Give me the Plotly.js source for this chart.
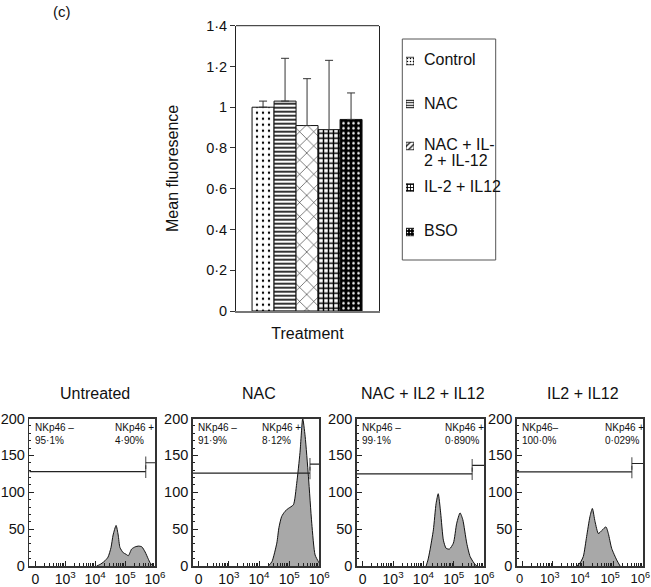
<!DOCTYPE html>
<html>
<head>
<meta charset="utf-8">
<script src="https://cdn.plot.ly/plotly-3.0.1.min.js"></script>
<style>html,body{margin:0;padding:0;background:#fff;}#chart{width:651px;height:587px;}</style>
</head>
<body>
<div id="chart"></div>
<script>
// ---------- Bar chart data ----------
const categories = ['Control', 'NAC', 'NAC + IL-2 + IL-12', 'IL-2 + IL12', 'BSO'];
const legendLines = [['Control'], ['NAC'], ['NAC + IL-', '2 + IL-12'], ['IL-2 + IL12'], ['BSO']];
const meanFluorescence = [1.0, 1.03, 0.91, 0.89, 0.94];
const errorUp = [0.03, 0.21, 0.23, 0.34, 0.13];
const yTickVals = [0, 0.2, 0.4, 0.6, 0.8, 1, 1.2, 1.4];
const yTickText = ['0', '0·2', '0·4', '0·6', '0·8', '1', '1·2', '1·4'];

// ---------- Histogram data (x in decades of biexponential axis) ----------
const panelTitles = ['Untreated', 'NAC', 'NAC + IL2 + IL12', 'IL2 + IL12'];
const untreatedX = [2.05, 2.16, 2.30, 2.43, 2.53, 2.60, 2.70, 2.77, 2.83, 2.94, 3.03, 3.11, 3.22, 3.34, 3.45, 3.56, 3.67, 3.77, 3.84, 3.94];
const untreatedY = [0, 2, 6, 12, 25, 42, 55, 42, 25, 18, 16, 14, 23, 26, 27, 26, 19, 10, 4, 0];
const nacX = [2.31, 2.43, 2.59, 2.66, 2.75, 2.86, 2.97, 3.14, 3.25, 3.36, 3.45, 3.53, 3.64, 3.75, 3.86, 3.97, 4.0];
const nacY = [0, 6, 31, 52, 67, 74, 78, 83, 112, 154, 200, 176, 121, 58, 15, 6, 4];
const nacIlX = [2.09, 2.15, 2.22, 2.33, 2.42, 2.49, 2.57, 2.66, 2.75, 2.86, 2.99, 3.10, 3.21, 3.30, 3.43, 3.54, 3.67, 3.76];
const nacIlY = [0, 8, 22, 49, 85, 98, 72, 35, 24, 23, 31, 58, 72, 63, 31, 13, 4, 0];
const ilX = [1.79, 1.90, 2.01, 2.12, 2.23, 2.31, 2.40, 2.51, 2.62, 2.76, 2.84, 2.95, 3.12, 3.23];
const ilY = [0, 4, 13, 40, 67, 78, 60, 44, 48, 53, 44, 24, 8, 0];
const histX = [untreatedX, nacX, nacIlX, ilX];
const histY = [untreatedY, nacY, nacIlY, ilY];

const gateNegY = [128, 126, 125, 127.5];
const gatePosY = [140, 138, 136.5, 139];
const gateSplitX = [3.69, 3.69, 3.61, 3.62];
const negLabels = ['NKp46 –', 'NKp46 –', 'NKp46 –', 'NKp46–'];
const negPct = ['95·1%', '91·9%', '99·1%', '100·0%'];
const posLabels = ['NKp46 +', 'NKp46 +', 'NKp46 +', 'NKp46 +'];
const posPct = ['4·90%', '8·12%', '0·890%', '0·029%'];
const histXTickVals = [0, 1, 2, 3, 4];
const histXTickText = ['0', '10<sup>3</sup>', '10<sup>4</sup>', '10<sup>5</sup>', '10<sup>6</sup>'];

// ---------- Layout helpers ----------
const W = 651, H = 587;
const dx = p => p / W;
const dy = p => 1 - p / H;
const FONT = 'Liberation Sans, Arial, Helvetica, sans-serif';

const patterns = [
  {shape: '.', size: 6, solidity: 0.12, fgcolor: '#000', bgcolor: '#fff'},
  {shape: '-', size: 4, solidity: 0.4, fgcolor: '#000', bgcolor: '#fff'},
  {shape: 'x', size: 10, solidity: 0.1, fgcolor: '#000', bgcolor: '#fff'},
  {shape: '+', size: 5, solidity: 0.5, fgcolor: '#000', bgcolor: '#fff'},
  {shape: '.', size: 5, solidity: 0.2, fgcolor: '#fff', bgcolor: '#000'}
];
const swatchPatterns = [
  {shape: '.', size: 3, solidity: 0.2, fgcolor: '#000', bgcolor: '#fff'},
  {shape: '-', size: 2.5, solidity: 0.4, fgcolor: '#000', bgcolor: '#fff'},
  {shape: '/', size: 4, solidity: 0.3, fgcolor: '#000', bgcolor: '#fff'},
  {shape: '+', size: 3, solidity: 0.5, fgcolor: '#000', bgcolor: '#fff'},
  {shape: '.', size: 3, solidity: 0.2, fgcolor: '#fff', bgcolor: '#000'}
];

const traces = [];
categories.forEach((c, i) => {
  traces.push({
    type: 'bar', x: [c], y: [meanFluorescence[i]], name: c,
    xaxis: 'x', yaxis: 'y', showlegend: false,
    marker: {color: '#fff', line: {color: '#111', width: 1}, pattern: patterns[i]},
    error_y: {type: 'data', symmetric: false, array: [errorUp[i]], arrayminus: [0],
              color: '#333', thickness: 1, width: 4},
    hoverinfo: 'skip'
  });
});

// legend (drawn as small swatch bars + text, in legend pixel rows)
const legendRowY = [61, 104, 146, 187.5, 232];
const legendBox = {x0: 402.3, x1: 495.7, y0: 39, y1: 260};
categories.forEach((c, i) => {
  traces.push({
    type: 'bar', orientation: 'h', y: [legendRowY[i]], x: [1], width: 7.5, name: c,
    xaxis: 'x6', yaxis: 'y6', showlegend: false, hoverinfo: 'skip',
    marker: {color: '#fff', line: {color: '#111', width: 0.8}, pattern: swatchPatterns[i]}
  });
});

const panelX = [[29.3, 155], [192.7, 319.3], [356.7, 484], [516.7, 643.3]];
const panelTop = 418.5, panelBottom = 566;
const layout = {
  width: W, height: H,
  margin: {l: 0, r: 0, t: 0, b: 0},
  paper_bgcolor: '#fff', plot_bgcolor: '#fff',
  font: {family: FONT, color: '#111', size: 14},
  barmode: 'overlay', bargap: 0,
  showlegend: false,
  xaxis: {domain: [dx(236), dx(379)], type: 'category', range: [-1.23, 5.27],
          showticklabels: false, ticks: '', showline: true, linecolor: '#777', linewidth: 2,
          showgrid: false, zeroline: false, fixedrange: true,
          title: {text: 'Treatment', font: {size: 16}, standoff: 16}},
  yaxis: {domain: [dy(311), dy(25.7)], range: [0, 1.4], tickvals: yTickVals, ticktext: yTickText,
          ticks: 'outside', ticklen: 5, tickcolor: '#333', showline: true, linecolor: '#222',
          linewidth: 1, mirror: true, showgrid: false, zeroline: false, tickfont: {size: 14.5},
          title: {text: 'Mean fluoresence', font: {size: 16}, standoff: 23}},
  xaxis6: {domain: [dx(406), dx(414)], range: [0, 1], visible: false, fixedrange: true, anchor: 'y6'},
  yaxis6: {domain: [dy(legendBox.y1), dy(legendBox.y0)], range: [legendBox.y1, legendBox.y0], visible: false, fixedrange: true, anchor: 'x6'},
  shapes: [
    {type: 'line', xref: 'x domain', yref: 'y domain', x0: 0, x1: 1, y0: 1, y1: 1, line: {color: '#222', width: 1}},
    {type: 'rect', xref: 'paper', yref: 'paper', x0: dx(legendBox.x0), x1: dx(legendBox.x1),
     y0: dy(legendBox.y1), y1: dy(legendBox.y0), line: {color: '#555', width: 1}}
  ],
  annotations: [{text: '(c)', x: dx(62), y: dy(11), xref: 'paper', yref: 'paper', showarrow: false,
                 font: {size: 15}, xanchor: 'center', yanchor: 'middle'}]
};

legendLines.forEach((lines, i) => {
  lines.forEach((ln, j) => {
    layout.annotations.push({text: ln, x: dx(422), y: dy(legendRowY[i] - 1 + j * 15), xref: 'paper', yref: 'paper',
      showarrow: false, font: {size: 16}, xanchor: 'left', yanchor: 'middle', align: 'left'});
  });
});

const minorX = [];
for (let d = 0; d < 4; d++) for (let k = 2; k <= 9; k++) minorX.push(d + Math.log10(k));

panelTitles.forEach((t, i) => {
  const n = i + 2;
  const xa = 'x' + n, ya = 'y' + n;
  traces.push({
    type: 'scatter', mode: 'lines', x: histX[i], y: histY[i], xaxis: xa, yaxis: ya,
    fill: 'tozeroy', fillcolor: '#a8a8a8', line: {color: '#111', width: 1, shape: 'spline', smoothing: 0.6},
    showlegend: false, hoverinfo: 'skip'
  });
  traces.push({
    type: 'scatter', mode: 'lines+markers', x: [-0.2, gateSplitX[i]], y: [gateNegY[i], gateNegY[i]],
    xaxis: xa, yaxis: ya, line: {color: '#222', width: 1.2},
    marker: {symbol: 'line-ns-open', size: [0, 9], color: '#222', line: {color: '#222', width: 1.2}},
    showlegend: false, hoverinfo: 'skip', cliponaxis: false
  });
  traces.push({
    type: 'scatter', mode: 'lines+markers', x: [gateSplitX[i], 4.03], y: [gatePosY[i], gatePosY[i]],
    xaxis: xa, yaxis: ya, line: {color: '#222', width: 1.2},
    marker: {symbol: 'line-ns-open', size: [9, 0], color: '#222', line: {color: '#222', width: 1.2}},
    showlegend: false, hoverinfo: 'skip', cliponaxis: false
  });
  const last = (i === 3);
  layout['xaxis' + n] = {
    domain: [dx(panelX[i][0]), dx(panelX[i][1])], anchor: ya, range: [-0.2, 4.0],
    tickvals: histXTickVals, ticktext: histXTickText, ticks: 'inside', ticklen: 5, tickcolor: '#222',
    ticklabeloverflow: 'allow', ticklabelshift: last ? -3 : 0,
    minor: {tickvals: minorX, ticks: 'inside', ticklen: 3, tickcolor: '#222'},
    showline: true, mirror: true, linecolor: '#333', linewidth: 1.5, showgrid: false, zeroline: false,
    tickfont: {size: last ? 13 : 14}, fixedrange: true
  };
  layout['yaxis' + n] = {
    domain: [dy(panelBottom), dy(panelTop)], anchor: xa, range: [0, 200],
    tickvals: [0, 50, 100, 150, 200], ticks: 'inside', ticklen: 5, tickcolor: '#222',
    ticklabeloverflow: 'allow',
    minor: {dtick: 10, ticks: 'inside', ticklen: 2, tickcolor: '#222'},
    showline: true, mirror: true, linecolor: '#333', linewidth: 1.5, showgrid: false, zeroline: false,
    tickfont: {size: 14.5}, fixedrange: true
  };
  const cx = (panelX[i][0] + panelX[i][1]) / 2;
  layout.annotations.push({text: t, x: dx(cx + 3), y: dy(393), xref: 'paper', yref: 'paper',
    showarrow: false, font: {size: 16}, xanchor: 'center', yanchor: 'middle'});
  layout.annotations.push({text: negLabels[i] + '<br>' + negPct[i], x: dx(panelX[i][0] + 3.5), y: dy(420.5),
    xref: 'paper', yref: 'paper', showarrow: false, font: {size: 10}, xanchor: 'left', yanchor: 'top', align: 'left'});
  const posOff = [83.4, 67.3, 86, 86][i];
  layout.annotations.push({text: posLabels[i] + '<br>' + posPct[i], x: dx(panelX[i][0] + posOff), y: dy(420.5),
    xref: 'paper', yref: 'paper', showarrow: false, font: {size: 10}, xanchor: 'left', yanchor: 'top', align: 'left'});
});

Plotly.newPlot('chart', traces, layout, {staticPlot: true, displayModeBar: false});
</script>
</body>
</html>
